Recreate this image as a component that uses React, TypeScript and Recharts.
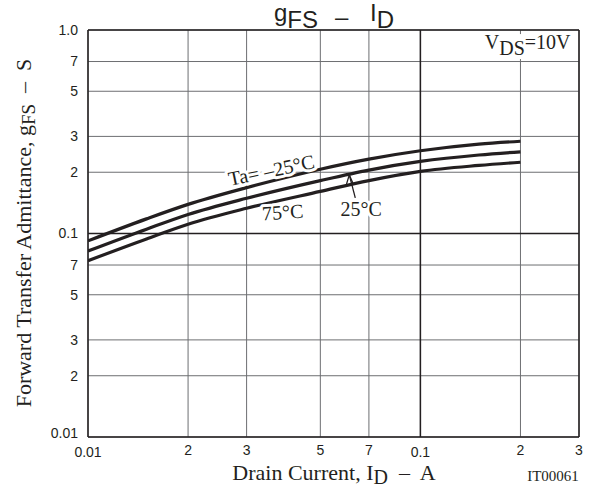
import React from "react";
import {
  LineChart,
  Line,
  XAxis,
  YAxis,
  CartesianGrid,
  ReferenceLine,
  ReferenceDot
} from "recharts";

// drain current (A) and forward transfer admittance (S) per Ta
const current = [0.01, 0.015, 0.02, 0.03, 0.05, 0.07, 0.1, 0.15, 0.2];
const gfsMinus25 = [0.092, 0.118, 0.139, 0.168, 0.207, 0.232, 0.255, 0.275, 0.284];
const gfs25 = [0.082, 0.105, 0.124, 0.149, 0.182, 0.205, 0.226, 0.243, 0.252];
const gfs75 = [0.0735, 0.094, 0.111, 0.133, 0.161, 0.182, 0.202, 0.216, 0.224];

const xTicks = [0.01, 0.02, 0.03, 0.05, 0.07, 0.1, 0.2, 0.3];
const xTickLabels = ["0.01", "2", "3", "5", "7", "0.1", "2", "3"];
const yTicks = [0.01, 0.02, 0.03, 0.05, 0.07, 0.1, 0.2, 0.3, 0.5, 0.7, 1.0];
const yTickLabels = ["0.01", "2", "3", "5", "7", "0.1", "2", "3", "5", "7", "1.0"];

const data = current.map((id, i) => ({
  id,
  m25: gfsMinus25[i],
  p25: gfs25[i],
  p75: gfs75[i]
}));

const INK = "#231f20";
const SANS = "'Liberation Sans', Arial, sans-serif";
const SERIF = "'Liberation Serif', 'Times New Roman', serif";

const halo = {
  stroke: "#fff",
  strokeWidth: 6,
  strokeLinejoin: "round" as const,
  paintOrder: "stroke" as const
};

function XTick(props: any) {
  const { x, y, payload } = props;
  const label = xTickLabels[xTicks.indexOf(payload.value)];
  const decade = label.includes(".");
  return (
    <text x={x} y={y + (decade ? 2 : 0)} dy="0.71em" textAnchor="middle"
      fontFamily={SANS} fontSize={14} fill={INK}>
      {label}
    </text>
  );
}

function YTick(props: any) {
  const { x, y, payload } = props;
  const label = yTickLabels[yTicks.indexOf(payload.value)];
  return (
    <text x={x} y={y - (payload.value === 0.01 ? 4 : 0)} dy="0.355em" textAnchor="end"
      fontFamily={SANS} fontSize={14} fill={INK}>
      {label}
    </text>
  );
}

export default function App() {
  return (
    <div style={{ position: "relative", width: 597, height: 488, background: "#fff" }}>
      <style>{`body{margin:0}`}</style>
      <LineChart width={597} height={488} data={data}
        margin={{ top: 30, right: 18, bottom: 0, left: 0 }}>
        <CartesianGrid stroke="#6d6e71" strokeWidth={1} />
        <XAxis dataKey="id" type="number" scale="log" domain={[0.01, 0.3]}
          ticks={xTicks} interval={0} height={51} tickLine={false}
          axisLine={{ stroke: INK, strokeWidth: 1.5 }} tick={<XTick />} allowDataOverflow />
        <YAxis type="number" scale="log" domain={[0.01, 1]} ticks={yTicks}
          interval={0} width={88} tickLine={false} tickMargin={4}
          axisLine={{ stroke: INK, strokeWidth: 1.5 }} tick={<YTick />} allowDataOverflow />

        <ReferenceLine x={0.1} stroke={INK} strokeWidth={1.5} />
        <ReferenceLine y={0.1} stroke={INK} strokeWidth={1.5} />
        <ReferenceLine x={0.3} stroke={INK} strokeWidth={1.5} />
        <ReferenceLine y={1} stroke={INK} strokeWidth={1.5} />

        <Line dataKey="m25" type="monotone" stroke={INK} strokeWidth={3.2} dot={false} isAnimationActive={false} />
        <Line dataKey="p25" type="monotone" stroke={INK} strokeWidth={3.2} dot={false} isAnimationActive={false} />
        <Line dataKey="p75" type="monotone" stroke={INK} strokeWidth={3.2} dot={false} isAnimationActive={false} />

        {/* annotations anchored in data coordinates */}
        <ReferenceDot x={0.283} y={0.806} r={1} ifOverflow="visible"
          shape={(p: any) => (
            <g>
              <rect x={p.cx - 90} y={p.cy - 15} width={92} height={25} fill="#fff" />
              <text x={p.cx} y={p.cy} textAnchor="end" fontFamily={SERIF} fontSize={20} fill={INK}>
                V<tspan dy={6}>DS</tspan><tspan dy={-6}>=10V</tspan>
              </text>
            </g>
          )} />
        <ReferenceDot x={0.0356} y={0.205} r={1} ifOverflow="visible"
          shape={(p: any) => (
            <text x={p.cx} y={p.cy} dy="0.35em" textAnchor="middle" fontFamily={SERIF}
              fontSize={20} fill={INK} transform={`rotate(-12 ${p.cx} ${p.cy})`} {...halo}
              style={{ whiteSpace: "pre" }}>
              {"Ta= –25°C"}
            </text>
          )} />
        <ReferenceDot x={0.0385} y={0.1275} r={1} ifOverflow="visible"
          shape={(p: any) => (
            <text x={p.cx} y={p.cy} dy="0.35em" textAnchor="middle" fontFamily={SERIF}
              fontSize={20} fill={INK} transform={`rotate(-4 ${p.cx} ${p.cy})`} {...halo}>
              75°C
            </text>
          )} />
        <ReferenceDot x={0.0664} y={0.132} r={1} ifOverflow="visible"
          shape={(p: any) => (
            <text x={p.cx} y={p.cy} dy="0.35em" textAnchor="middle" fontFamily={SERIF}
              fontSize={20} fill={INK} {...halo}>
              25°C
            </text>
          )} />
        <ReferenceDot x={0.0611} y={0.194} r={1} ifOverflow="visible"
          shape={(p: any) => (
            <g stroke={INK} strokeWidth={1.3} fill="none">
              <line x1={p.cx + 6} y1={p.cy + 23} x2={p.cx} y2={p.cy} />
              <polyline points={`${p.cx - 3},${p.cy + 10} ${p.cx},${p.cy} ${p.cx + 4},${p.cy + 9}`} />
            </g>
          )} />
      </LineChart>

      <svg width={597} height={488} style={{ position: "absolute", left: 0, top: 0, pointerEvents: "none" }}>
        <text fontFamily={SANS} fontSize={24} fill={INK}>
          <tspan x={274} y={21}>g</tspan>
          <tspan y={28}>FS</tspan>
          <tspan x={335} y={25}>–</tspan>
          <tspan x={370} y={21}>I</tspan>
          <tspan y={28}>D</tspan>
        </text>
        <text x={31} y={233} transform="rotate(-90 31 233)" textAnchor="middle"
          fontFamily={SERIF} fontSize={22} fill={INK} style={{ whiteSpace: "pre" }}>
          {"Forward Transfer Admittance, g"}
          <tspan dy={4} fontSize={19}>FS</tspan>
          <tspan dy={-4}>{"  –  S"}</tspan>
        </text>
        <text x={334} y={480} textAnchor="middle" fontFamily={SERIF} fontSize={22} fill={INK}
          style={{ whiteSpace: "pre" }}>
          {"Drain Current, I"}
          <tspan dy={4} fontSize={20}>D</tspan>
          <tspan dy={-4}>{"  –  A"}</tspan>
        </text>
        <text x={553} y={481} textAnchor="middle" fontFamily={SERIF} fontSize={15} fill={INK}>
          IT00061
        </text>
      </svg>
    </div>
  );
}
